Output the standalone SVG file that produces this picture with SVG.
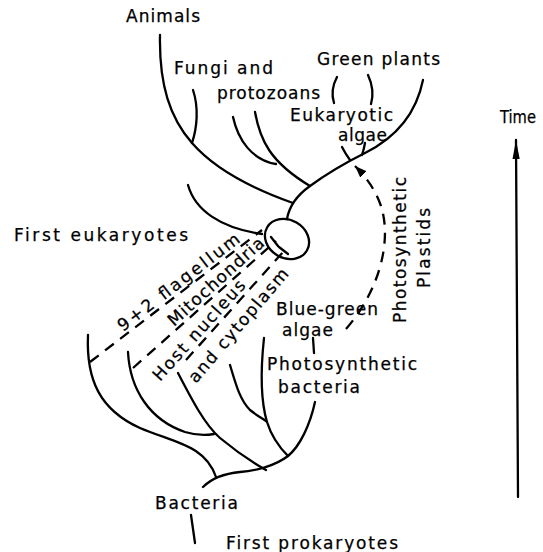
<svg xmlns="http://www.w3.org/2000/svg" width="543" height="552" viewBox="0 0 543 552">
<style>
.br{fill:none;stroke:#000;stroke-width:2.3;stroke-linecap:round;stroke-linejoin:round}
.dash{stroke-dasharray:11 8;stroke-linecap:butt}
text{font-family:"DejaVu Sans","Liberation Sans",sans-serif;font-size:17px;fill:#000;stroke:#000;stroke-width:0.25}
</style>
<defs>
<marker id="ahTime" markerUnits="userSpaceOnUse" markerWidth="22" markerHeight="10" refX="19" refY="4" orient="auto"><path d="M0,0.4 L19,4 L0,7.6 Z" fill="#000"/></marker>
<marker id="ahDash" markerUnits="userSpaceOnUse" markerWidth="14" markerHeight="10" refX="12" refY="4.5" orient="auto"><path d="M0,0 L12,4.5 L0,9 Z" fill="#000"/></marker>
</defs>
<rect width="543" height="552" fill="#fff"/>

<g id="connectors">
  <!-- eukaryote tree -->
  <path class="br" d="M287,219 C289,207 296,196 310,186 C325,175 345,163 365,153 C395,138 416,115 423,80"/>
  <path class="br" d="M160,35 C159,85 170,118 192,143 C212,166 245,186 293,203"/>
  <path class="br" d="M193,90 C199,108 197,128 192,143"/>
  <path class="br" d="M233,117 C238,140 252,160 276,164"/>
  <path class="br" d="M255,112 C260,140 270,162 310,186"/>
  <path class="br" d="M188,185 C195,210 220,228 262,234"/>
  <path class="br" d="M350,160 Q345,153 342,147"/>
  <path class="br" d="M362,155 Q364,149 365,143"/>
  <path class="br" d="M337,77 Q330,90 334,103"/>
  <path class="br" d="M368,75 Q375,90 371,104"/>
  <!-- prokaryote tree -->
  <path class="br" d="M203,487 C210,480 220,474 240,472 C255,471 275,466 288,456 C300,446 310,425 315,402"/>
  <path class="br" d="M88,335 C86,380 100,410 140,428 C175,443 205,445 216,477"/>
  <path class="br" d="M128,352 C130,390 150,420 185,432 C198,436 208,435 214,434"/>
  <path class="br" d="M178,373 C192,400 205,425 220,438 C238,453 252,462 266,470"/>
  <path class="br" d="M230,365 C236,385 240,400 250,410 C256,415 262,418 266,421"/>
  <path class="br" d="M264,338 C260,375 262,405 267,422 C272,438 280,448 288,456"/>
  <path class="br" d="M191,515 L195,543"/>
  <path class="br" d="M313,338 L314,353"/>
  <!-- endosymbiosis dashed lines -->
  <path class="br dash" d="M90,362 L262,230"/>
  <path class="br dash" d="M133,368 L276,241"/>
  <path class="br dash" d="M186,360 L284,251"/>
  <path class="br" d="M271,237 L278,246"/>
  <path class="br" d="M279,247 L288,254"/>
  <!-- plastid arrow -->
  <path class="br dash" d="M346,329 C380,290 392,240 381,206 C375,189 366,177 355,166" marker-end="url(#ahDash)"/>
  <!-- time arrow -->
  <path class="br" d="M518,497 L516,140" marker-end="url(#ahTime)"/>
</g>

<g id="first-eukaryote-cell">
  <ellipse class="br" cx="287" cy="239" rx="23" ry="19" transform="rotate(30 287 239)"/>
</g>

<g id="animals"><text x="126" y="22" textLength="74" lengthAdjust="spacing">Animals</text></g>
<g id="fungi-protozoans">
  <text x="174" y="74" textLength="99" lengthAdjust="spacing">Fungi and</text>
  <text x="217" y="99" textLength="103" lengthAdjust="spacing">protozoans</text>
</g>
<g id="green-plants"><text x="317" y="65" textLength="123" lengthAdjust="spacing">Green plants</text></g>
<g id="eukaryotic-algae">
  <text x="290" y="121" textLength="103" lengthAdjust="spacing">Eukaryotic</text>
  <text x="338" y="141" textLength="49" lengthAdjust="spacing">algae</text>
</g>
<g id="time"><text x="500" y="123" textLength="36" lengthAdjust="spacingAndGlyphs">Time</text></g>
<g id="first-eukaryotes"><text x="14" y="241" textLength="174" lengthAdjust="spacing">First eukaryotes</text></g>
<g id="flagellum"><text transform="translate(123,332) rotate(-37.5)" textLength="149" lengthAdjust="spacing">9+2 flagellum</text></g>
<g id="mitochondria"><text transform="translate(174,327) rotate(-42)" textLength="123" lengthAdjust="spacing">Mitochondria</text></g>
<g id="host">
  <text transform="translate(160,382) rotate(-48)" textLength="129" lengthAdjust="spacing">Host nucleus</text>
  <text transform="translate(196,384) rotate(-49.5)" textLength="144" lengthAdjust="spacing">and cytoplasm</text>
</g>
<g id="blue-green-algae">
  <text x="276" y="315" textLength="102" lengthAdjust="spacing">Blue-green</text>
  <text x="282" y="336" textLength="51" lengthAdjust="spacing">algae</text>
</g>
<g id="photosynthetic-bacteria">
  <text x="267" y="370" textLength="150" lengthAdjust="spacing">Photosynthetic</text>
  <text x="278" y="393" textLength="82" lengthAdjust="spacing">bacteria</text>
</g>
<g id="photosynthetic-plastids">
  <text transform="translate(406,323) rotate(-90)" textLength="146" lengthAdjust="spacing">Photosynthetic</text>
  <text transform="translate(430,288) rotate(-90)" textLength="80" lengthAdjust="spacing">Plastids</text>
</g>
<g id="bacteria"><text x="155" y="509" textLength="83" lengthAdjust="spacing">Bacteria</text></g>
<g id="first-prokaryotes"><text x="226" y="549" textLength="172" lengthAdjust="spacing">First prokaryotes</text></g>
</svg>
